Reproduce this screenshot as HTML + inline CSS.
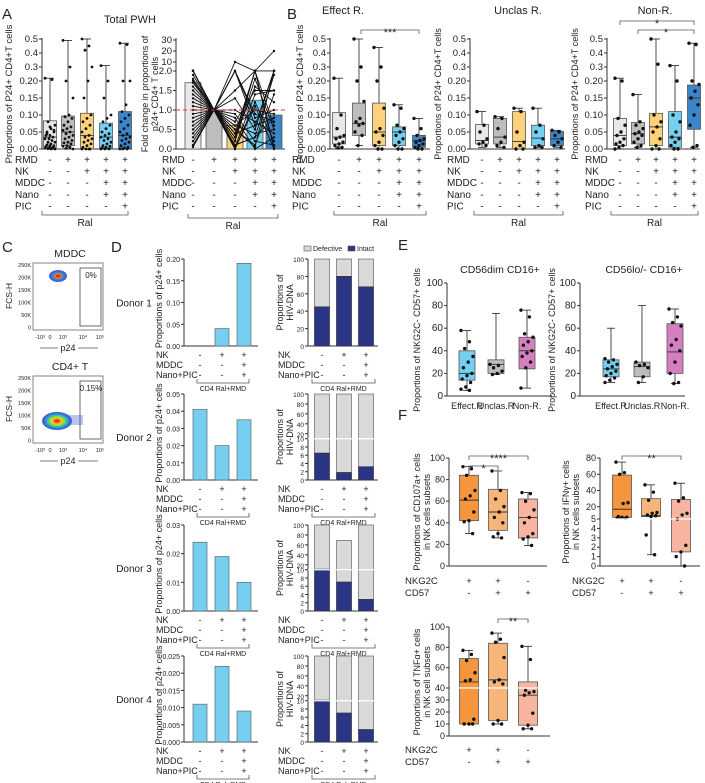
<!DOCTYPE html>
<html><head><meta charset="utf-8"><style>
html,body{margin:0;padding:0;background:#fff;}
svg{display:block;font-family:"Liberation Sans",Arial,sans-serif;}
</style></head><body>
<svg id="fig" width="705" height="783" viewBox="0 0 705 783" xmlns="http://www.w3.org/2000/svg"></svg>
<script>
// ===== DATA =====
const aLeftStats=[[0,.005,.035,.083,.22],[0,.01,.05,.097,.49],[0,0,.04,.105,.5],[0,.003,.035,.076,.31],[0,.003,.04,.11,.47]];
const aLeftPts=[
[.22,.21,.08,.07,.06,.05,.05,.04,.04,.035,.03,.03,.025,.02,.02,.015,.012,.01,.01,.008,.005,.004,.003,.002,.001,.0,.0,.045,.055,.065],
[.49,.3,.2,.15,.1,.095,.09,.08,.07,.065,.06,.055,.05,.045,.04,.035,.03,.025,.02,.018,.015,.01,.008,.005,.002,.0],
[.5,.45,.42,.3,.2,.15,.1,.09,.08,.07,.06,.05,.04,.035,.03,.025,.02,.015,.01,.005,.0,.0,.0,.0],
[.31,.2,.15,.1,.09,.08,.07,.06,.05,.045,.04,.035,.03,.025,.02,.015,.01,.008,.005,.003,.0,.0,.0],
[.47,.46,.2,.2,.13,.11,.1,.09,.08,.07,.06,.05,.045,.04,.035,.03,.025,.02,.015,.01,.005,.003,.0,.0,.0]];
const foldBars=[1.7,1.0,0.6,1.25,0.87];
const foldC1=[2.4,2.2,2.0,1.9,1.8,1.7,1.6,1.5,1.4,1.3,1.2,1.1,1.0,0.9,0.8,0.7,0.6,0.5,0.4,0.3,0.2,0.1,0.05,2.3,1.75];
const foldC3=[0.2,10,2.0,0.5,0.3,0.7,0.1,1.5,0.8,0.0,2.1,0.4,1.3,0.6,0.9,0.05,1.0,0.2,0.5,2.2,0.3,0.6,0.0,0.1,0.4];
const foldC4=[1.8,2.0,0.6,0.1,2.2,1.5,0.3,2.1,0.0,1.2,0.8,2.0,0.5,1.0,0.2,1.4,0.7,2.3,0.05,0.9,1.6,0.4,1.1,0.3,0.6];
const foldC5=[0.5,20,2.0,1.4,0.0,1.5,0.8,2.1,0.3,0.2,1.0,0.6,2.2,0.9,0.1,1.5,0.4,0.05,2.3,0.7,1.2,0.5,0.0,1.9,0.8];
const effStats=[[.003,.015,.035,.107,.22],[.01,.04,.075,.135,.5],[0,.01,.05,.135,.44],[0,.01,.05,.065,.13],[0,.005,.025,.04,.09]];
const effPts=[[.22,.1,.06,.04,.035,.03,.02,.015,.01,.005,.003],[.5,.3,.2,.14,.09,.08,.075,.07,.05,.04,.01],[.44,.3,.2,.12,.06,.05,.04,.02,.01,0,0],[.13,.12,.07,.06,.05,.04,.03,.02,.01,0,0],[.09,.06,.04,.03,.025,.02,.015,.01,.005,0,0]];
const uncStats=[[.005,.015,.025,.072,.11],[.005,.015,.035,.09,.095],[0,0,.022,.11,.12],[.005,.01,.032,.07,.12],[.005,.01,.03,.052,.055]];
const uncPts=[[.11,.07,.05,.03,.02,.015,.01],[.095,.09,.06,.035,.02,.01,.005],[.12,.11,.05,.02,.01,0,0],[.12,.07,.05,.03,.01,.005,.005],[.055,.05,.04,.03,.02,.01,.005]];
const nonStats=[[0,.01,.04,.09,.22],[.005,.015,.045,.078,.16],[0,.01,.065,.105,.5],[0,.005,.035,.11,.31],[.005,.058,.15,.188,.47]];
const nonPts=[[.22,.2,.09,.07,.05,.04,.03,.02,.015,.01,.005,0],[.16,.08,.07,.06,.05,.045,.04,.03,.02,.01,.005],[.5,.32,.1,.08,.065,.05,.03,.01,0,0],[.31,.2,.1,.08,.05,.035,.03,.02,.01,0,0],[.47,.46,.2,.19,.17,.15,.13,.1,.07,.01,.005]];
const condSigns={RMD:['-','+','+','+','+'],NK:['-','-','+','+','+'],MDDC:['-','-','-','+','+'],Nano:['-','-','-','+','+'],PIC:['-','-','-','-','+']};
const p24Donor1=[0,0.04,0.19];
const p24Donor2=[0.041,0.02,0.035];
const p24Donor3=[0.024,0.019,0.01];
const p24Donor4=[0.011,0.022,0.009];
const p24Max=[0.20,0.05,0.03,0.025];
const totalD1=[100,100,100], intactD1=[45,80,68];
const totalD2=[100,100,100], intactD2=[6.5,1.8,3.2];
const totalD3=[100,69,100], intactD3=[11,7,2.8];
const totalD4=[100,100,100], intactD4=[11,7,3];
const eCats=['Effect.R','Unclas.R','Non-R.'];
const eLeftStats=[[5,14,20,40,58],[19,20,28,32,73],[7,24,40,52,76]];
const eLeftPts=[[58,48,42,35,30,25,20,18,15,12,8,6,5],[28,27,25,22,20,19],[76,70,55,52,48,45,40,38,35,30,25,7]];
const eRightStats=[[12,17,24,32,60],[12,17,26,30,80],[11,20,39,64,77]];
const eRightPts=[[33,32,30,28,26,24,22,20,18,16,14,12],[30,28,27,25,17,12],[77,70,65,62,50,45,40,30,20,12,11]];
const fCD107Stats=[[30,42,61,84,92],[26,33,50,71,88],[19,26,45,62,68]];
const fCD107Pts=[[92,90,84,70,65,62,50,42,41,30],[88,70,62,55,50,45,40,30,27,26],[68,67,60,52,45,40,30,27,25,19]];
const fIFNStats=[[6,7,17,59,75],[1.2,8,9,30,47],[0,1.5,5,29,49]];
const fIFNPts=[[75,62,60,25,24,8,7,7,6.5,6],[47,38,28,13,12,10,9,8,3.3,1.2],[49,31,27,12,10,5,2.2,1.5,1,0]];
const fTNFStats=[[10,10,46,69,77],[10,13,48,84,94],[6,9,34,46,81]];
const fTNFPts=[[77,73,67,55,48,47,14,10,10,10],[94,88,85,70,48,46,44,13,10,10],[81,68,38,37,36,34,19,9,6,6]];
const fSigns={NKG2C:['+','+','-'],CD57:['-','+','+']};

// ===== HELPERS =====
const svg=document.getElementById('fig');
const NS='http://www.w3.org/2000/svg';
function mk(tag,attrs,parent){const e=document.createElementNS(NS,tag);for(const k in attrs)e.setAttribute(k,attrs[k]);(parent||svg).appendChild(e);return e;}
function line(x1,y1,x2,y2,name,stroke,w,dash){const e=mk('line',{x1:x1,y1:y1,x2:x2,y2:y2,stroke:stroke||'#222','stroke-width':w||1});if(dash)e.setAttribute('stroke-dasharray',dash);


return e;}
function text(x,y,s,size,name,anchor,rot,weight,fill){const e=mk('text',{x:x,y:y,'font-size':size,'text-anchor':anchor||'middle',fill:fill||'#222'});if(rot)e.setAttribute('transform','rotate('+rot+' '+x+' '+y+')');if(weight)e.setAttribute('font-weight',weight);e.textContent=s;


return e;}
function rect(x,y,w,h,fill,name,stroke,sw){const e=mk('rect',{x:x,y:y,width:w,height:Math.max(0,h),fill:fill,stroke:stroke||'#333','stroke-width':sw===undefined?0.8:sw});


return e;}
function dot(x,y,name,r){const e=mk('circle',{cx:x,cy:y,r:r||1.7,fill:'#111'});


return e;}
function boxplot(cx,w,st,pts,ys,color,name,spread,r){
  line(cx,ys(st[0]),cx,ys(st[4]),name+'-whisker','#222',0.8);
  line(cx-4,ys(st[4]),cx+4,ys(st[4]),name+'-cap-top','#222',0.8);
  line(cx-4,ys(st[0]),cx+4,ys(st[0]),name+'-cap-bottom','#222',0.8);
  rect(cx-w/2,ys(st[3]),w,ys(st[1])-ys(st[3]),color,name+'-box','#555',0.8);
  line(cx-w/2,ys(st[2]),cx+w/2,ys(st[2]),name+'-median','#333',0.9);
  pts.forEach((v,i)=>{const off=(((i*7)%11)-5)/5*(spread||w/2-1);dot(cx+off,ys(v),name+'-point',r);});
}
function yAxis(x,yTop,yBot,ticks,ys,name,size){
  line(x,yTop,x,yBot,name+'-line','#333',1);
  ticks.forEach(t=>{const y=ys(t[0]);line(x-3,y,x,y,name+'-tick','#333',1);text(x-4,y+3,t[1],size||10,name+'-label','end');});
}
function xAxis(x1,x2,y,name){line(x1,y,x2,y,name,'#333',1);}
function signRows(labelX,centers,rows,y0,dy,name,size,signs){
  rows.forEach((r,ri)=>{const y=y0+ri*dy;text(labelX,y,r,size||10,name+'-row-label','start');
    signs[r].forEach((s,i)=>text(centers[i],y,s,size||10,name+'-sign','middle'));});
}
function bracket(x1,x2,y,label,name,down){
  const e=mk('path',{d:'M'+x1+' '+(y+(down||4))+' V'+y+' H'+x2+' V'+(y+(down||4)),fill:'none',stroke:'#555','stroke-width':0.8});
  
  
  if(label)text((x1+x2)/2,y+6,label,11,name+'-label','middle');
}
function underBracket(x1,x2,y,label,name,size){
  const e=mk('path',{d:'M'+x1+' '+(y-4)+' V'+y+' H'+x2+' V'+(y-4),fill:'none',stroke:'#555','stroke-width':0.8});
  
  
  text((x1+x2)/2,y+(size||10)+1,label,size||10,name+'-label','middle');
}

// ===== Panel letters =====
text(2,19,'A',15,'panel-label-a','start');
text(287,19,'B',15,'panel-label-b','start');
text(2,252,'C',15,'panel-label-c','start');
text(111,252,'D',15,'panel-label-d','start');
text(398,250,'E',15,'panel-label-e','start');
text(398,420,'F',15,'panel-label-f','start');

function yAB(v){return v<=0.2?149-v/0.2*68:81-(v-0.2)/0.3*42;}
const abTicks=[[0,'0.00'],[0.05,'0.05'],[0.1,'0.10'],[0.15,'0.15'],[0.2,'0.20'],[0.3,'0.3'],[0.4,'0.4'],[0.5,'0.5']];
const colorsAB=['#e8e8e8','#bdbdbd','#fdd27a','#74cff0','#3a86c8'];

function boxPanel(axisX,centers,stats,pts,name,endX,r){
  yAxis(axisX,38,149,abTicks,yAB,name+'-y-axis',9.5);
  xAxis(axisX,endX,149,name+'-x-axis');
  stats.forEach((st,i)=>boxplot(centers[i],13,st,pts[i],yAB,colorsAB[i],name+'-box-'+(i+1),5,r));
}
text(130,23,'Total PWH',11,'title-total-pwh');
boxPanel(42,[50,68,87,106,125],aLeftStats,aLeftPts,'a-left',132,1.4);
text(12,94,'Proportions of P24+ CD4+T cells',9.5,'a-left-y-title','middle',-90);
signRows(15,[50,68,87,106,125],['RMD','NK','MDDC','Nano','PIC'],163,11.6,'a-left',10,condSigns);
underBracket(42,128,215,'Ral','a-left-ral');

function yF(v){if(v<=2)return 149-v/2*78; if(v<=10)return 71-(v-2)/8*9; return 62-(v-10)/20*22;}
const foldCenters=[193,214,235,255,274];
const fTicks=[[0,'0.0'],[0.5,'0.5'],[1,'1.0'],[1.5,'1.5'],[2,'2.0'],[10,'10'],[20,'20'],[30,'30']];
yAxis(176,38,149,fTicks,yF,'a-right-y-axis',9.5);
xAxis(176,285,149,'a-right-x-axis');
foldBars.forEach((v,i)=>rect(foldCenters[i]-8,yF(v),16,149-yF(v),colorsAB[i],'a-right-bar-'+(i+1),'#555',0.8));
const foldSeries=[foldC1,foldC1.map(()=>1),foldC3,foldC4,foldC5];
for(let d=0;d<foldC1.length;d++){
  let p='';for(let c=0;c<5;c++){p+=(c?'L':'M')+foldCenters[c]+' '+yF(foldSeries[c][d]);}
  const e=mk('path',{d:p,fill:'none',stroke:'#111','stroke-width':0.9});
  
  
  for(let c=0;c<5;c++)dot(foldCenters[c],yF(foldSeries[c][d]),'a-right-point',1.2);
}
line(176,yF(1),287,yF(1),'a-right-reference-line','#e23a3a',1,'4,3');
text(148,94,'Fold change in proportions of',9,'a-right-y-title-1','middle',-90);
text(158,94,'p24+ CD4+ T cells',9,'a-right-y-title-2','middle',-90);
signRows(162,foldCenters,['RMD','NK','MDDC','Nano','PIC'],163,11.6,'a-right',10,condSigns);
underBracket(188,278,218,'Ral','a-right-ral');

text(343,14,'Effect R.',11,'title-effect-r');
boxPanel(330,[339,359,379,399,419],effStats,effPts,'b-effect',430);
text(303,94,'Proportions of P24+ CD4+T cells',9.5,'b-effect-y-title','middle',-90);
bracket(361,419,30,'***','b-effect-significance');
signRows(292,[339,359,379,399,419],['RMD','NK','MDDC','Nano','PIC'],163,11.6,'b-effect',10,condSigns);
underBracket(334,426,215,'Ral','b-effect-ral');

text(518,14,'Unclas R.',11,'title-unclas-r');
boxPanel(470,[482,500,519,538,557],uncStats,uncPts,'b-unclas',565);
text(441,94,'Proportions of P24+ CD4+T cells',9,'b-unclas-y-title','middle',-90);
signRows(447,[482,500,519,538,557],['RMD','NK','MDDC','Nano','PIC'],163,11.6,'b-unclas',10,condSigns);
underBracket(474,563,215,'Ral','b-unclas-ral');

text(655,14,'Non-R.',11,'title-non-r');
boxPanel(607,[620,638,656,675,694],nonStats,nonPts,'b-non',700);
text(578,94,'Proportions of P24+ CD4+T cells',9,'b-non-y-title','middle',-90);
bracket(620,694,21,'*','b-non-significance-1');
bracket(638,694,30,'*','b-non-significance-2');
signRows(585,[620,638,656,675,694],['RMD','NK','MDDC','Nano','PIC'],163,11.6,'b-non',10,condSigns);
underBracket(611,698,215,'Ral','b-non-ral');

// ===== Panel C =====
function flow(y0,title,gateLbl,cx,cy,spreadX,name,pBig){
  text(70,y0-6,title,10.5,name+'-title');
  rect(33,y0,70,67,'#fff',name+'-frame','#666',0.8);
  rect(80,y0+5,21,58,'none',name+'-gate','#444',0.8);
  text(91,y0+15,gateLbl,8,name+'-gate-value');
  const cols=['#3050c8','#2c8be0','#34c7a8','#8cdc3c','#f5d020','#f07820','#e02020'];
  if(pBig){const e=mk('rect',{x:cx,y:cy-6,width:26,height:10,fill:'#3a5ad0',opacity:0.35});
    
    }
  const n=pBig?7:4;
  for(let i=0;i<n;i++){const k=pBig?i:[0,1,5,6][i];const f=1-i/n;
    const e=mk('ellipse',{cx:cx,cy:cy,rx:spreadX*f,ry:(pBig?9:6)*f,fill:cols[k],opacity:0.9});
    
    }
  ['250K','200K','150K','100K','50K','0'].forEach((t,i)=>text(31,y0+4+i*12.5,t,5.5,name+'-y-tick','end'));
  text(12,y0+33,'FCS-H',8.5,name+'-y-title','middle',-90);
  ['-10³','0','10³','10⁴','10⁵'].forEach((t,i)=>text([40,50,63,83,100][i],y0+76,t,5.5,name+'-x-tick','middle'));
  text(68,y0+88,'p24',9,name+'-x-title');
  line(40,y0+85,58,y0+85,name+'-x-title-rule','#555',0.7);line(78,y0+85,98,y0+85,name+'-x-title-rule','#555',0.7);
}
flow(263,'MDDC','0%',58,276,9,'c-mddc',false);
flow(376,'CD4+ T','0.15%',57,421,15,'c-cd4',true);

// ===== Panel D =====
const dDonors=[{y0:259,b:346,p:p24Donor1,t:totalD1,i:intactD1,label:'Donor 1',pt:[[0,'0.00'],[0.05,'0.05'],[0.1,'0.10'],[0.15,'0.15'],[0.2,'0.20']],broken:false},
{y0:394,b:480,p:p24Donor2,t:totalD2,i:intactD2,label:'Donor 2',pt:[[0,'0.00'],[0.01,'0.01'],[0.02,'0.02'],[0.03,'0.03'],[0.04,'0.04'],[0.05,'0.05']],broken:true},
{y0:525,b:611,p:p24Donor3,t:totalD3,i:intactD3,label:'Donor 3',pt:[[0,'0.00'],[0.01,'0.01'],[0.02,'0.02'],[0.03,'0.03']],broken:true},
{y0:656,b:742,p:p24Donor4,t:totalD4,i:intactD4,label:'Donor 4',pt:[[0,'0.000'],[0.005,'0.005'],[0.01,'0.010'],[0.015,'0.015'],[0.02,'0.020'],[0.025,'0.025']],broken:true}];
const dSigns={'NK':['-','+','+'],'MDDC':['-','-','+'],'Nano+PIC':['-','-','+']};
rect(304,246,7,5,'#d9d9d9','d-legend-defective-swatch','#555',0.6);
text(313,251,'Defective',7,'d-legend-defective-label','start');
rect(348,246,7,5,'#2a3585','d-legend-intact-swatch','#555',0.6);
text(357,251,'Intact',7,'d-legend-intact-label','start');
dDonors.forEach((d,k)=>{
  const nm='d-donor'+(k+1);
  text(134,(d.y0+d.b)/2+4,d.label,10,nm+'-label');
  const max=p24Max[k];const ys=v=>d.b-v/max*(d.b-d.y0);
  yAxis(184,d.y0,d.b,d.pt,ys,nm+'-p24-y-axis',7);
  xAxis(184,258,d.b,nm+'-p24-x-axis');
  [200,222,244].forEach((cx,i)=>{if(d.p[i]>0)rect(cx-7,ys(d.p[i]),14,d.b-ys(d.p[i]),'#74cff0',nm+'-p24-bar-'+(i+1),'#666',0.7);});
  text(162,(d.y0+d.b)/2-4,'Proportions of p24+ cells',9,nm+'-p24-y-title','middle',-90);
  signRows(156,[200,222,244],['NK','MDDC','Nano+PIC'],d.b+12,10,nm+'-p24',9,dSigns);
  underBracket(197,249,d.b+37,'CD4 Ral+RMD',nm+'-p24-bracket',7);
  let yd;
  if(!d.broken) yd=v=>d.b-v/100*(d.b-d.y0);
  else { const h=d.b-d.y0; yd=v=> v<=10? d.b-v/10*(h*0.48) : d.b-h*0.48-(v-10)/90*(h*0.52); }
  const ticks=d.broken?[[0,'0'],[2,'2'],[4,'4'],[6,'6'],[8,'8'],[10,'10'],[20,'20'],[40,'40'],[60,'60'],[80,'80'],[100,'100']]:[[0,'0'],[20,'20'],[40,'40'],[60,'60'],[80,'80'],[100,'100']];
  yAxis(308,d.y0,d.b,ticks,yd,nm+'-dna-y-axis',6.5);
  xAxis(308,378,d.b,nm+'-dna-x-axis');
  [322,344,366].forEach((cx,i)=>{
    rect(cx-7.5,yd(d.t[i]),15,yd(d.i[i])-yd(d.t[i]),'#d9d9d9',nm+'-dna-defective-'+(i+1),'#666',0.7);
    rect(cx-7.5,yd(d.i[i]),15,d.b-yd(d.i[i]),'#2a3585',nm+'-dna-intact-'+(i+1),'#333',0.7);
  });
  if(d.broken) line(308,yd(10),378,yd(10),nm+'-dna-axis-break','#fff',1.2);
  text(283,(d.y0+d.b)/2,'Proportions of',9,nm+'-dna-y-title-1','middle',-90);
  text(293,(d.y0+d.b)/2,'HIV-DNA',9,nm+'-dna-y-title-2','middle',-90);
  signRows(278,[322,344,366],['NK','MDDC','Nano+PIC'],d.b+12,10,nm+'-dna',9,dSigns);
  underBracket(312,375,d.b+37,'CD4 Ral+RMD',nm+'-dna-bracket',7);
});

// ===== Panel E =====
const eColors=['#74cff0','#bdbdbd','#d67fc0'];
function ePanel(axisX,centers,stats,pts,title,titleX,name,titleY){
  const ys=v=>396-v/100*113;
  text(titleX,273,title,10.5,name+'-title');
  yAxis(axisX,283,396,[[0,'0'],[20,'20'],[40,'40'],[60,'60'],[80,'80'],[100,'100']],ys,name+'-y-axis',10);
  xAxis(axisX,axisX+105,396,name+'-x-axis');
  stats.forEach((st,i)=>boxplot(centers[i],16,st,pts[i],ys,eColors[i],name+'-box-'+(i+1),6));
  eCats.forEach((c,i)=>text(centers[i],409,c,9,name+'-category-label'));
  text(titleY,340,'Proportions of NKG2C- CD57+ cells',9,name+'-y-title','middle',-90);
}
ePanel(447,[467,496,527],eLeftStats,eLeftPts,'CD56dim CD16+',500,'e-left',420);
ePanel(580,[611,642,675],eRightStats,eRightPts,'CD56lo/- CD16+',644,'e-right',555);

// ===== Panel F =====
const fColors=['#f5953e','#f8b57a','#f9b4a0'];
(function(){const nm='f-cd107a';const ys=v=>566-v/100*108;const cs=[469,498,528];
 yAxis(449,458,566,[[0,'0'],[20,'20'],[40,'40'],[60,'60'],[80,'80'],[100,'100']],ys,nm+'-y-axis',9);
 xAxis(449,547,566,nm+'-x-axis');
 fCD107Stats.forEach((st,i)=>boxplot(cs[i],19,st,fCD107Pts[i],ys,fColors[i],nm+'-box-'+(i+1),6));
 bracket(469,528,456,'****',nm+'-significance-1');
 bracket(469,498,466,'*',nm+'-significance-2');
 text(420,512,'Proportions of CD107a+ cells',9,nm+'-y-title-1','middle',-90);
 text(430,512,'in NK cells subsets',9,nm+'-y-title-2','middle',-90);
 signRows(405,cs,['NKG2C','CD57'],584,12,nm,9.5,fSigns);
})();
(function(){const nm='f-ifng';const cs=[622,651,681];
 const ys=v=>v<=5?566-v/5*47:519-(v-5)/75*61;
 yAxis(600,458,566,[[0,'0'],[1,'1'],[2,'2'],[3,'3'],[4,'4'],[5,'5'],[20,'20'],[40,'40'],[60,'60'],[80,'80']],ys,nm+'-y-axis',9);
 xAxis(600,700,566,nm+'-x-axis');
 fIFNStats.forEach((st,i)=>boxplot(cs[i],19,st,fIFNPts[i],ys,fColors[i],nm+'-box-'+(i+1),6));
 line(601,ys(5),700,ys(5),nm+'-axis-break','#fff',1.2);
 bracket(622,681,456,'**',nm+'-significance');
 text(569,512,'Proportions of IFNγ+ cells',9,nm+'-y-title-1','middle',-90);
 text(579,512,'in NK cells subsets',9,nm+'-y-title-2','middle',-90);
 signRows(572,cs,['NKG2C','CD57'],584,12,nm,9.5,fSigns);
})();
(function(){const nm='f-tnfa';const cs=[469,498,528];
 const ys=v=>v<=40?736-v/40*48:688-(v-40)/60*61;
 yAxis(449,627,736,[[0,'0'],[10,'10'],[20,'20'],[30,'30'],[40,'40'],[60,'60'],[80,'80'],[100,'100']],ys,nm+'-y-axis',9);
 xAxis(449,550,736,nm+'-x-axis');
 fTNFStats.forEach((st,i)=>boxplot(cs[i],19,st,fTNFPts[i],ys,fColors[i],nm+'-box-'+(i+1),6));
 line(450,ys(40),550,ys(40),nm+'-axis-break','#fff',1.2);
 bracket(498,528,619,'**',nm+'-significance');
 text(420,682,'Proportions of TNFα+ cells',9,nm+'-y-title-1','middle',-90);
 text(430,682,'in NK cell subsets',9,nm+'-y-title-2','middle',-90);
 signRows(405,cs,['NKG2C','CD57'],753,12,nm,9.5,fSigns);
})();
</script>
</body></html>
